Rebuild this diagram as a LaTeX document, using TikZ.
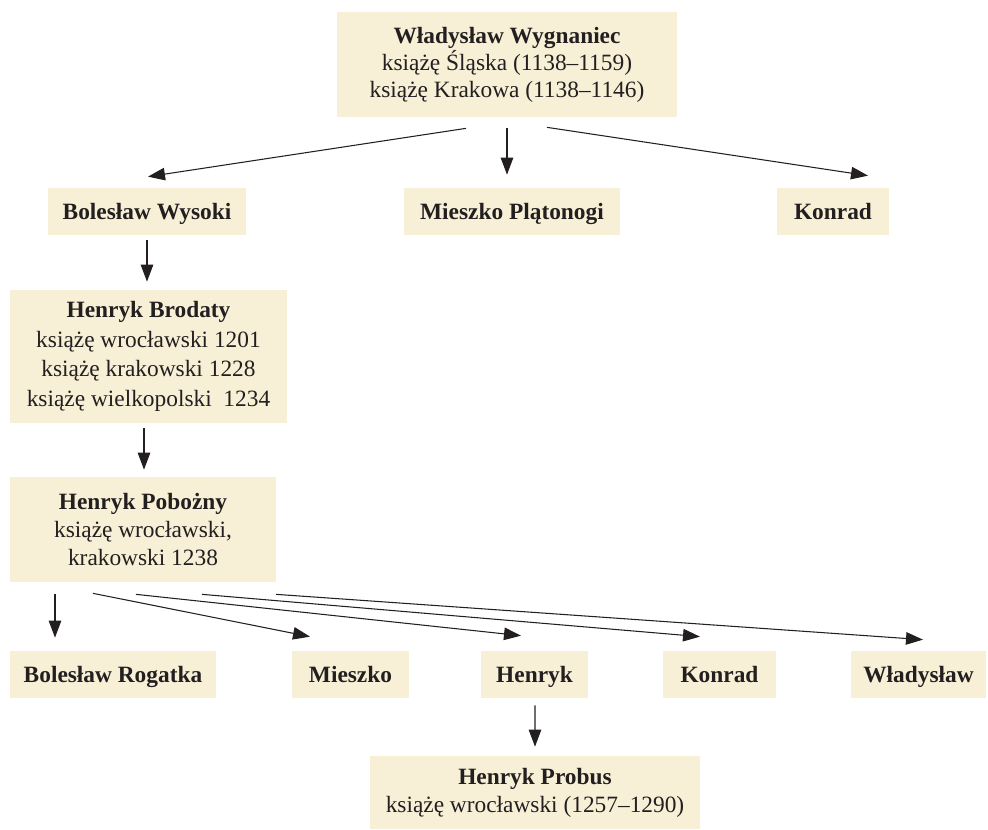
\documentclass[tikz,border=0pt]{standalone}
\usepackage{fontspec}
\setmainfont{Liberation Serif}
\usetikzlibrary{arrows.meta}
\definecolor{boxbeige}{RGB}{247,240,214}
\definecolor{inkdark}{RGB}{35,31,32}
\tikzset{
	famtree box/.style={fill=boxbeige, draw=none, text=inkdark, align=center, inner sep=0pt, font=\fontsize{13.3}{15.3}\selectfont},
	name box/.style={famtree box, minimum height=0.94cm, text height=10.5pt, text depth=1pt, font=\fontsize{13.3}{15.3}\selectfont\bfseries},
	arr/.style={draw=inkdark, line width=0.6pt, -{Triangle[length=0.34cm,width=0.25cm]}}
}

\begin{document}
\begin{tikzpicture}[x=0.02cm, y=-0.02cm]
		%%%%% START %%%%%
		
		\useasboundingbox (0, 0) rectangle (988, 829);
		
		% first generation
		\node[famtree box, minimum width=6.8cm, minimum height=2.1cm] (wlad) at (507, 64.5) {\textbf{Władysław Wygnaniec}\\książę Śląska (1138–1159)\\książę Krakowa (1138–1146)};
		
		\node[name box, minimum width=3.96cm] (bwys) at (147, 211.5) {Bolesław Wysoki};
		\node[name box, minimum width=4.32cm] (mpla) at (512, 211.5) {Mieszko Plątonogi};
		\node[name box, minimum width=2.24cm] (konrA) at (833, 211.5) {Konrad};
		
		\draw[arr] ([shift={(-41, 11)}]wlad.south) -- ([shift={(1, -11)}]bwys.north);
		\draw[arr] ([shift={(0, 11)}]wlad.south) -- ([shift={(-5, -13)}]mpla.north);
		\draw[arr] ([shift={(40, 10)}]wlad.south) -- ([shift={(35, -12)}]konrA.north);
		
		% Henryk Brodaty, Henryk Pobożny
		\node[famtree box, minimum width=5.54cm, minimum height=2.66cm, font=\fontsize{13.3}{16.8}\selectfont] (hbro) at (148.5, 356.5) {\textbf{Henryk Brodaty}\\książę wrocławski 1201\\książę krakowski 1228\\książę wielkopolski~ 1234};
		\draw[arr] ([shift={(0, 5)}]bwys.south) -- ([shift={(-1.5, -8)}]hbro.north);
		
		\node[famtree box, minimum width=5.32cm, minimum height=2.1cm, font=\fontsize{13.3}{16.2}\selectfont] (hpob) at (143, 529.5) {\textbf{Henryk Pobożny}\\książę wrocławski,\\krakowski 1238};
		\draw[arr] ([shift={(-4.5, 5)}]hbro.south) -- ([shift={(1, -7)}]hpob.north);
		
		% sons of Henryk Pobożny
		\node[name box, minimum width=4.12cm] (brog) at (113, 674.5) {Bolesław Rogatka};
		\node[name box, minimum width=2.34cm] (mies) at (350.5, 674.5) {Mieszko};
		\node[name box, minimum width=2.14cm] (henr) at (534.5, 674.5) {Henryk};
		\node[name box, minimum width=2.26cm] (konrB) at (719.5, 674.5) {Konrad};
		\node[name box, minimum width=2.7cm] (wladB) at (918.5, 674.5) {Władysław};
		
		\draw[arr] ([shift={(-88, 12)}]hpob.south) -- ([shift={(-58, -13)}]brog.north);
		\draw[arr] ([shift={(-50, 11)}]hpob.south) -- ([shift={(-40.5, -14)}]mies.north);
		\draw[arr] ([shift={(-7, 12)}]hpob.south) -- ([shift={(-13.5, -15)}]henr.north);
		\draw[arr] ([shift={(59, 12)}]hpob.south) -- ([shift={(-19.5, -14)}]konrB.north);
		\draw[arr] ([shift={(133, 12)}]hpob.south) -- ([shift={(4.5, -11)}]wladB.north);
		
		% Henryk Probus
		\node[famtree box, minimum width=6.6cm, minimum height=1.46cm, font=\fontsize{13.3}{16}\selectfont] (hpro) at (535, 792.5) {\textbf{Henryk Probus}\\książę wrocławski (1257–1290)};
		\draw[arr] ([shift={(0.5, 7)}]henr.south) -- ([shift={(0, -9)}]hpro.north);
		
		%%%%% END %%%%%
	\end{tikzpicture}
\end{document}
